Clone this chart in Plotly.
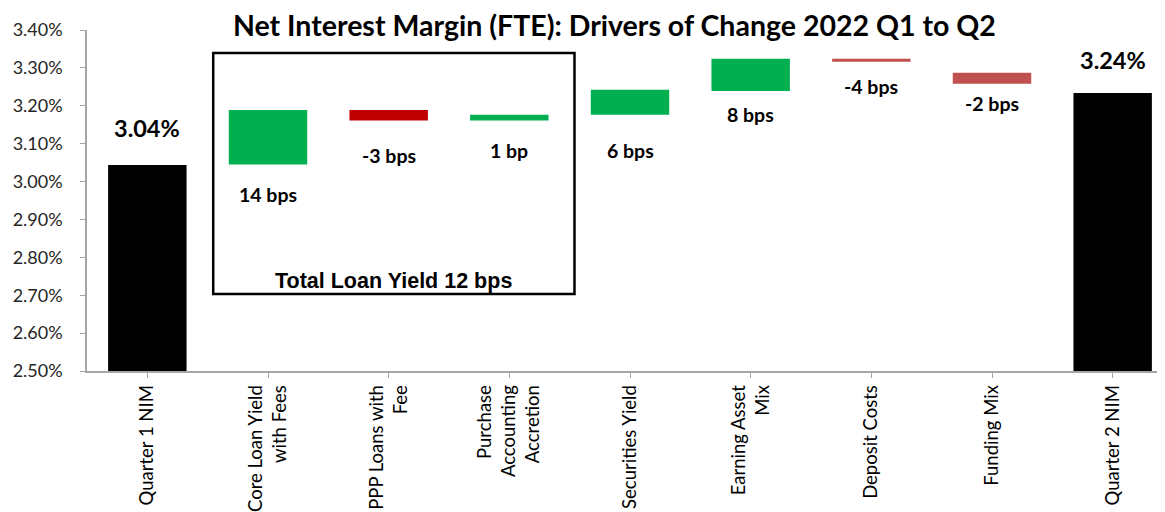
import plotly.graph_objects as go

# ---------------- data ----------------
categories = [
    "Quarter 1 NIM",
    "Core Loan Yield<br>with Fees",
    "PPP Loans with<br>Fee",
    "Purchase<br>Accounting<br>Accretion",
    "Securities Yield",
    "Earning Asset<br>Mix",
    "Deposit Costs",
    "Funding Mix",
    "Quarter 2 NIM",
]
bar_bottom = [2.50, 3.045, 3.161, 3.161, 3.176, 3.239, 3.316, 3.258, 2.50]
bar_top = [3.044, 3.189, 3.189, 3.176, 3.242, 3.324, 3.324, 3.287, 3.234]
bar_labels = ["3.04%", "14 bps", "-3 bps", "1 bp", "6 bps", "8 bps", "-4 bps", "-2 bps", "3.24%"]
bar_kind = ["total", "up", "down_dark", "up", "up", "up", "down", "down", "total"]
y_ticks = [2.50, 2.60, 2.70, 2.80, 2.90, 3.00, 3.10, 3.20, 3.30, 3.40]
box_caption = "Total Loan Yield 12 bps"
title_text = "Net Interest Margin (FTE): Drivers of Change 2022 Q1 to Q2"

# ---------------- style ----------------
kind_color = {"total": "#000000", "up": "#00B050", "down_dark": "#C00000", "down": "#C0504D"}
label_y = [3.141, 2.967, 3.070, 3.083, 3.081, 3.176, 3.252, 3.205, 3.321]
label_size = [23.5, 19.5, 19.5, 19.5, 19.5, 19.5, 19.5, 19.5, 23.5]
FONT = "Lato"

x_idx = list(range(len(categories)))
heights = [t - b for t, b in zip(bar_top, bar_bottom)]

fig = go.Figure()
fig.add_trace(go.Bar(
    x=x_idx,
    y=heights,
    base=bar_bottom,
    width=0.65,
    marker=dict(color=[kind_color[k] for k in bar_kind], line=dict(width=0)),
    hoverinfo="skip",
    showlegend=False,
))

for i, (lab, ly, fs) in enumerate(zip(bar_labels, label_y, label_size)):
    fig.add_annotation(x=i, y=ly, xref="x", yref="y", text=f"<b>{lab}</b>",
                       showarrow=False, font=dict(family=FONT, size=fs, color="#000000"),
                       xanchor="center", yanchor="middle")

# box around the loan yield drivers
fig.add_shape(type="rect", xref="x", yref="y", x0=0.546, x1=3.54, y0=2.703, y1=3.339,
              line=dict(color="#000000", width=2.5), fillcolor="rgba(0,0,0,0)", layer="above")
fig.add_annotation(x=2.04, y=2.737, xref="x", yref="y", text=f"<b>{box_caption}</b>",
                   showarrow=False, font=dict(family="Liberation Sans", size=21.5, color="#000000"),
                   xanchor="center", yanchor="middle")

fig.update_layout(
    width=1165, height=512,
    margin=dict(l=79, r=0, t=22, b=149),
    paper_bgcolor="white", plot_bgcolor="white",
    bargap=0.35,
    title=dict(text=f"<b>{title_text}</b>", x=0.5205, xanchor="center", xref="container",
               y=1 - 18.5 / 512, yanchor="middle", yref="container",
               font=dict(family=FONT, size=28.5, color="#000000")),
    font=dict(family=FONT),
)

fig.update_xaxes(
    range=[-0.5, 8.5],
    tickmode="array", tickvals=x_idx, ticktext=categories,
    tickangle=-90,
    ticks="outside", ticklen=5, tickcolor="#A6A6A6", tickson="boundaries",
    showline=True, linecolor="#A6A6A6", linewidth=1.5,
    showgrid=False, zeroline=False,
    tickfont=dict(family=FONT, size=18.5, color="#000000"),
)
fig.update_yaxes(
    range=[2.50, 3.40],
    tickmode="array", tickvals=y_ticks, ticktext=[f"{v:.2f}%" for v in y_ticks],
    ticks="outside", ticklen=5, tickcolor="#A6A6A6",
    ticklabelstandoff=14,
    showline=True, linecolor="#A6A6A6", linewidth=1.5,
    showgrid=False, zeroline=False,
    tickfont=dict(family=FONT, size=18, color="#262626"),
)

fig.write_html("out.html")
